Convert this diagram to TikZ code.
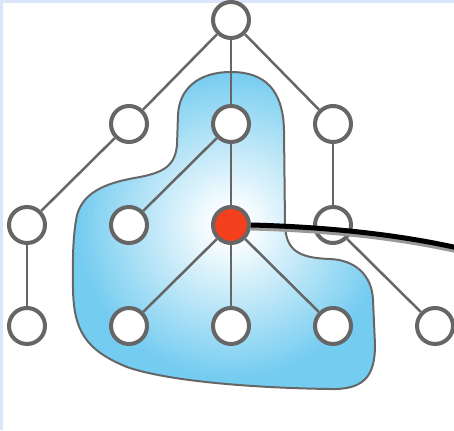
\documentclass[tikz,border=0pt]{standalone}
\definecolor{framebg}{HTML}{DCE6FB}
\definecolor{edgegray}{HTML}{666666}
\definecolor{blobblue}{HTML}{74CCF0}
\definecolor{hotred}{HTML}{F4401C}
\tikzset{
  vertex/.style={circle, draw=edgegray, line width=4pt, fill=white, minimum size=36pt, inner sep=0pt},
  hotvertex/.style={vertex, fill=hotred},
  link/.style={draw=edgegray, line width=2.5pt},
  outline/.style={draw=edgegray, line width=2pt},
}
\begin{document}
\begin{tikzpicture}[x=1pt, y=-1pt]
  \useasboundingbox (0,0) rectangle (454,430);
  % pale frame along the top and left edges
  \fill[framebg] (0,0) rectangle (454,3);
  \fill[framebg] (0,0) rectangle (3,430);

  % node positions
  \coordinate (ptop) at (231,20);
  \coordinate (p21) at (129,124);
  \coordinate (p22) at (231,124);
  \coordinate (p23) at (333,124);
  \coordinate (p31) at (27,225);
  \coordinate (p32) at (129,225);
  \coordinate (p33) at (231,225);
  \coordinate (p34) at (333,225);
  \coordinate (p41) at (27,326);
  \coordinate (p42) at (129,326);
  \coordinate (p43) at (231,326);
  \coordinate (p44) at (333,326);
  \coordinate (p45) at (435,326);

  % the highlighted neighbourhood
  \def\blobpath{(231,72) .. controls (197,72) and (179,90) .. (178,115)
    -- (177,145) .. controls (175,165) and (165,172) .. (140,177)
    .. controls (110,182) and (84,190) .. (77,215)
    .. controls (72,240) and (73,265) .. (73,290)
    .. controls (74,330) and (85,350) .. (127,367)
    .. controls (170,382) and (260,388) .. (330,389)
    .. controls (365,390) and (375,375) .. (375,345)
    -- (373,300) .. controls (372,275) and (355,260) .. (330,259)
    .. controls (298,258) and (286,250) .. (285,225)
    -- (284,130) .. controls (283,90) and (265,72) .. (231,72) -- cycle}
  \fill[blobblue] \blobpath;
  \begin{scope}
    \clip \blobpath;
    % glow around the highlighted vertex, built from concentric discs
    \foreach \r in {168,165,...,3} {
      \pgfmathsetmacro\p{min(100,max(0,(\r-16)*100/140))}
      \fill[blobblue!\p!white] (p33) circle[radius=\r pt];
    }
  \end{scope}
  \draw[outline] \blobpath;

  % vertices
  \node[vertex] (top) at (ptop) {};
  \node[vertex] (a1) at (p21) {};
  \node[vertex] (a2) at (p22) {};
  \node[vertex] (a3) at (p23) {};
  \node[vertex] (b1) at (p31) {};
  \node[vertex] (b2) at (p32) {};
  \node[hotvertex] (b3) at (p33) {};
  \node[vertex] (b4) at (p34) {};
  \node[vertex] (c1) at (p41) {};
  \node[vertex] (c2) at (p42) {};
  \node[vertex] (c3) at (p43) {};
  \node[vertex] (c4) at (p44) {};
  \node[vertex] (c5) at (p45) {};

  % edges
  \draw[link] (top) -- (a1);
  \draw[link] (top) -- (a2);
  \draw[link] (top) -- (a3);
  \draw[link] (a1) -- (b1);
  \draw[link] (b1) -- (c1);
  \draw[link] (a2) -- (b2);
  \draw[link] (a2) -- (b3);
  \draw[link] (a3) -- (b4);
  \draw[link] (b3) -- (c2);
  \draw[link] (b3) -- (c3);
  \draw[link] (b3) -- (c4);
  \draw[link] (b4) -- (c5);

  % pointer leaving the highlighted vertex
  \coordinate (lineend) at (458,248);
  \draw[line width=5pt, black!40] ([yshift=-3pt]b3.east) .. controls (330,230) and (400,238) .. ([yshift=-3pt]lineend);
  \draw[line width=5pt, black] (b3.east) .. controls (330,227) and (400,235) .. (lineend);
\end{tikzpicture}
\end{document}
